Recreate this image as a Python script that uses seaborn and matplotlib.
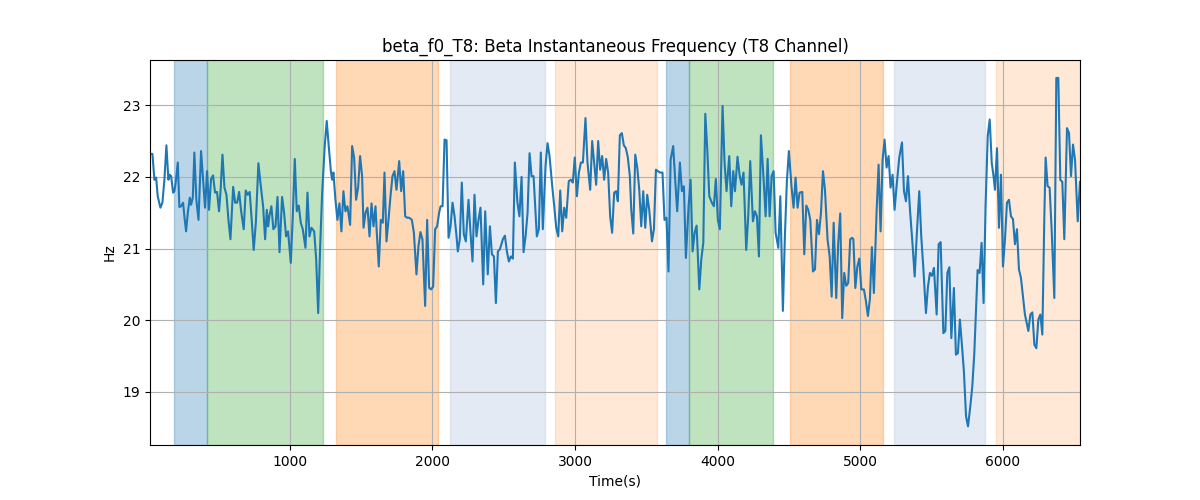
import matplotlib
matplotlib.use("Agg")
import matplotlib.pyplot as plt
import seaborn as sns
import pandas as pd

time_s = [
    20, 37, 51, 63, 74, 93, 107, 121, 135, 149, 158, 168, 182, 191, 200, 215, 226, 238, 252, 261,
    273, 285, 299, 308, 320, 331, 345, 360, 378, 392, 406, 420, 434, 448, 462, 476, 490, 504, 514, 528,
    542, 556, 570, 584, 603, 617, 631, 645, 659, 677, 691, 705, 719, 733, 747, 762, 780, 794, 813, 827,
    839, 848, 857, 871, 885, 900, 914, 928, 946, 960, 974, 988, 1007, 1021, 1035, 1049, 1063, 1077, 1091, 1110,
    1124, 1138, 1152, 1171, 1185, 1199, 1213, 1227, 1245, 1259, 1273, 1288, 1297, 1306, 1320, 1334, 1348, 1362, 1376, 1390,
    1404, 1423, 1437, 1451, 1465, 1479, 1493, 1507, 1517, 1531, 1545, 1559, 1573, 1587, 1601, 1610, 1624, 1638, 1652, 1664,
    1678, 1692, 1706, 1720, 1734, 1748, 1767, 1781, 1795, 1809, 1823, 1837, 1856, 1870, 1879, 1888, 1902, 1916, 1930, 1949,
    1963, 1977, 1991, 2005, 2019, 2033, 2047, 2057, 2071, 2085, 2099, 2113, 2127, 2141, 2155, 2169, 2178, 2192, 2206, 2220,
    2234, 2253, 2267, 2281, 2295, 2309, 2323, 2337, 2356, 2370, 2388, 2403, 2417, 2431, 2445, 2459, 2473, 2494, 2508, 2522,
    2536, 2550, 2564, 2578, 2596, 2610, 2625, 2639, 2653, 2667, 2681, 2695, 2709, 2723, 2732, 2746, 2760, 2774, 2793, 2807,
    2821, 2840, 2854, 2868, 2882, 2896, 2910, 2924, 2938, 2956, 2970, 2984, 2998, 3013, 3027, 3041, 3055, 3073, 3087, 3106,
    3120, 3134, 3148, 3162, 3176, 3190, 3204, 3218, 3232, 3246, 3260, 3274, 3288, 3300, 3314, 3328, 3342, 3356, 3370, 3384,
    3394, 3408, 3422, 3436, 3450, 3464, 3478, 3492, 3506, 3520, 3539, 3553, 3567, 3581, 3595, 3613, 3627, 3641, 3655, 3670,
    3688, 3702, 3716, 3735, 3749, 3763, 3777, 3796, 3810, 3824, 3838, 3852, 3871, 3885, 3899, 3913, 3927, 3941, 3959, 3973,
    3987, 4001, 4015, 4034, 4048, 4062, 4081, 4095, 4109, 4121, 4139, 4153, 4167, 4181, 4200, 4214, 4228, 4247, 4261, 4275,
    4289, 4303, 4322, 4336, 4350, 4364, 4378, 4392, 4406, 4425, 4439, 4457, 4471, 4485, 4499, 4518, 4532, 4546, 4560, 4574,
    4593, 4607, 4621, 4635, 4649, 4668, 4682, 4696, 4710, 4724, 4738, 4752, 4770, 4785, 4799, 4813, 4831, 4845, 4859, 4873,
    4887, 4901, 4915, 4929, 4943, 4951, 4965, 4979, 4993, 5007, 5025, 5039, 5053, 5067, 5081, 5095, 5114, 5128, 5142, 5156,
    5170, 5184, 5198, 5212, 5226, 5240, 5254, 5273, 5292, 5306, 5320, 5334, 5348, 5367, 5381, 5395, 5413, 5427, 5441, 5460,
    5474, 5488, 5502, 5516, 5535, 5549, 5563, 5582, 5596, 5610, 5624, 5638, 5656, 5670, 5684, 5698, 5712, 5726, 5741, 5755,
    5771, 5785, 5799, 5813, 5822, 5836, 5850, 5864, 5878, 5893, 5907, 5921, 5935, 5944, 5958, 5972, 5986, 6000, 6014, 6028,
    6042, 6056, 6070, 6084, 6098, 6112, 6126, 6140, 6154, 6178, 6192, 6206, 6220, 6234, 6248, 6262, 6276, 6290, 6299, 6313,
    6327, 6341, 6360, 6374, 6388, 6402, 6416, 6430, 6449, 6463, 6477, 6491, 6505, 6524, 6540,
]

freq_hz = [
    22.32, 22.32, 21.96, 21.99, 21.73, 21.57, 21.64, 21.96, 22.44, 21.96, 22.03, 22.01, 21.78, 21.80, 21.92, 22.20, 21.58, 21.59, 21.64, 21.45,
    21.24, 21.50, 21.71, 21.61, 21.71, 22.34, 21.68, 21.40, 22.36, 21.96, 21.57, 22.08, 21.54, 21.97, 22.02, 21.78, 21.79, 21.52, 21.78, 22.31,
    21.85, 21.75, 21.40, 21.13, 21.86, 21.64, 21.64, 21.79, 21.52, 21.27, 21.81, 21.75, 21.79, 21.40, 20.98, 21.36, 22.19, 21.92, 21.59, 21.13,
    21.54, 21.31, 21.45, 21.59, 21.27, 21.31, 21.72, 20.95, 21.72, 21.50, 21.17, 21.24, 20.80, 21.45, 22.25, 21.52, 21.60, 21.36, 21.27, 21.01,
    21.78, 21.17, 21.29, 21.24, 20.85, 20.10, 21.03, 21.78, 22.43, 22.78, 22.43, 22.08, 21.96, 22.06, 21.68, 21.40, 21.63, 21.24, 21.80, 21.52,
    21.59, 21.33, 22.43, 22.27, 21.68, 21.85, 22.29, 22.01, 21.29, 21.50, 21.57, 21.17, 21.63, 21.31, 21.59, 21.22, 20.75, 21.40, 21.36, 22.06,
    21.10, 21.40, 21.73, 22.01, 22.08, 21.82, 22.22, 21.80, 22.08, 21.45, 21.43, 21.43, 21.40, 21.22, 20.94, 20.64, 21.03, 21.23, 21.13, 20.20,
    21.40, 20.45, 20.43, 20.47, 21.27, 21.31, 21.50, 21.59, 21.59, 22.52, 22.51, 21.15, 21.31, 21.64, 21.45, 21.17, 20.96, 21.13, 21.92, 21.20,
    21.10, 21.68, 21.22, 20.82, 21.75, 21.17, 21.40, 21.57, 20.50, 21.52, 20.64, 21.31, 20.92, 20.89, 20.24, 20.96, 20.99, 21.13, 21.18, 20.96,
    20.82, 20.89, 20.86, 22.20, 21.64, 21.45, 22.00, 20.95, 21.17, 21.50, 22.33, 22.01, 22.01, 21.50, 21.17, 21.27, 22.34, 21.27, 22.15, 22.47,
    22.29, 21.87, 21.59, 21.29, 21.17, 21.81, 21.24, 21.57, 21.43, 21.94, 21.96, 21.92, 22.27, 21.73, 22.06, 22.20, 22.20, 22.82, 22.20, 21.82,
    22.50, 22.20, 21.89, 22.50, 22.10, 22.29, 21.96, 22.25, 22.06, 21.45, 21.22, 21.78, 21.80, 21.66, 22.58, 22.61, 22.44, 22.40, 22.27, 22.01,
    21.54, 21.21, 22.31, 22.13, 21.82, 21.31, 21.80, 21.29, 21.75, 21.54, 21.10, 21.27, 22.10, 22.08, 22.06, 22.06, 21.40, 21.43, 20.68, 22.24,
    22.43, 21.96, 21.52, 22.20, 21.80, 21.87, 20.87, 21.59, 21.96, 20.96, 21.22, 21.32, 20.43, 20.85, 21.08, 22.88, 22.38, 21.73, 21.64, 21.59,
    21.97, 21.40, 21.27, 22.99, 22.20, 21.80, 22.29, 21.59, 22.08, 21.80, 22.28, 22.03, 21.89, 22.06, 20.98, 21.45, 22.22, 21.38, 21.52, 21.45,
    20.89, 22.58, 21.96, 21.45, 22.25, 21.45, 22.01, 22.08, 21.22, 21.01, 21.73, 20.13, 21.17, 21.94, 22.36, 21.85, 21.57, 21.99, 21.57, 21.78,
    21.79, 20.92, 21.60, 21.54, 21.40, 20.68, 20.71, 21.40, 21.20, 21.50, 22.08, 21.82, 21.13, 20.89, 20.33, 21.36, 20.31, 21.08, 21.49, 20.03,
    20.66, 20.48, 20.52, 21.13, 21.15, 21.13, 20.45, 20.75, 20.86, 20.43, 20.43, 20.27, 20.06, 20.29, 21.02, 20.38, 21.52, 22.17, 21.24, 22.24,
    22.52, 22.13, 22.29, 21.85, 22.03, 21.54, 21.87, 22.27, 22.48, 21.80, 21.66, 22.01, 21.54, 21.03, 20.61, 21.17, 21.80, 21.17, 20.75, 20.10,
    20.47, 20.66, 20.62, 20.73, 20.08, 21.06, 21.09, 19.82, 19.85, 20.66, 20.74, 19.75, 20.45, 19.52, 19.54, 20.01, 19.66, 19.29, 18.66, 18.52,
    18.80, 19.08, 19.54, 20.24, 20.70, 20.66, 21.08, 20.24, 21.59, 22.57, 22.80, 22.20, 21.99, 21.82, 22.40, 21.29, 22.03, 20.75, 21.13, 21.64,
    21.68, 21.45, 21.41, 21.06, 21.27, 20.71, 20.59, 20.33, 20.08, 19.85, 20.08, 20.11, 19.66, 19.61, 20.01, 20.08, 19.80, 21.45, 22.27, 21.87,
    21.85, 21.27, 20.31, 23.38, 23.38, 21.96, 21.93, 21.13, 22.68, 22.61, 22.01, 22.45, 22.24, 21.38, 21.93,
]

# shaded intervals: (start, end, colour, alpha)
span_starts = [187, 418, 1322, 2122, 2858, 3636, 3798, 4508, 5236, 5951]
span_ends = [418, 1232, 2037, 2788, 3573, 3798, 4389, 5160, 5874, 6540]
span_colors = ["tab:blue", "tab:green", "tab:orange", "lightsteelblue", "tab:orange",
               "tab:blue", "tab:green", "tab:orange", "lightsteelblue", "tab:orange"]
span_alphas = [0.3, 0.3, 0.3, 0.35, 0.17, 0.3, 0.3, 0.3, 0.35, 0.17]

df = pd.DataFrame({"Time(s)": time_s, "Hz": freq_hz})

fig, ax = plt.subplots(figsize=(12, 5), dpi=100)
for s, e, c, a in zip(span_starts, span_ends, span_colors, span_alphas):
    ax.axvspan(s, e, color=c, alpha=a)

sns.lineplot(data=df, x="Time(s)", y="Hz", ax=ax, color="tab:blue", linewidth=1.5)

ax.set_xlim(min(time_s), max(time_s))
ax.set_ylim(18.26, 23.63)
ax.grid(True)
ax.set_title("beta_f0_T8: Beta Instantaneous Frequency (T8 Channel)")
ax.set_xlabel("Time(s)")
ax.set_ylabel("Hz")

fig.savefig("out.png", dpi=100)
